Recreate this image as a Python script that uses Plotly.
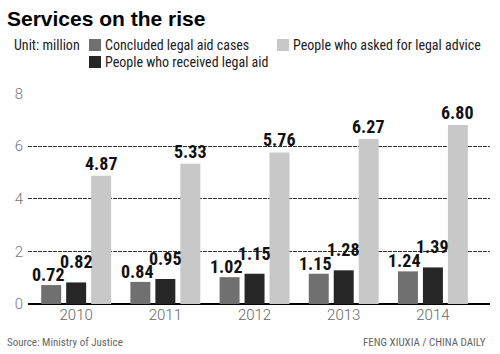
import plotly.graph_objects as go

years = ["2010", "2011", "2012", "2013", "2014"]
concluded = [0.72, 0.84, 1.02, 1.15, 1.24]
received = [0.82, 0.95, 1.15, 1.28, 1.39]
advice = [4.87, 5.33, 5.76, 6.27, 6.80]

names = ["Concluded legal aid cases", "People who received legal aid", "People who asked for legal advice"]
colors = ["#707070", "#262626", "#c8c8c8"]

W, H = 500, 354
ML, MR, MT, MB = 28, 10, 93, 50
PW, PH = W - ML - MR, H - MT - MB

NARROW = "Liberation Sans Narrow, Arial Narrow, Roboto Condensed, Roboto, sans-serif"
BARGAP, GROUPGAP = 0.16, 0.2

def px(x):
    return (x - ML) / PW

def py(y):
    return (H - MB - y) / PH

xs = list(range(len(years)))
fig = go.Figure()
for vals, name, col in zip([concluded, received, advice], names, colors):
    fig.add_trace(go.Bar(x=xs, y=vals, name=name, marker=dict(color=col, line=dict(width=0)),
                         showlegend=False, hoverinfo="skip"))

slot = (1 - BARGAP) / 3
ann = []
label_font = dict(family=NARROW, size=18, color="#111111", weight="bold")
for i in xs:
    ann.append(dict(x=i - slot, y=concluded[i], text=f"{concluded[i]:.2f}", xref="x", yref="y",
                    showarrow=False, yanchor="bottom", yshift=-2, xshift=-3, font=label_font))
    ann.append(dict(x=i, y=received[i], text=f"{received[i]:.2f}", xref="x", yref="y",
                    showarrow=False, yanchor="bottom", yshift=8, font=label_font))
    ann.append(dict(x=i + slot, y=advice[i], text=f"{advice[i]:.2f}", xref="x", yref="y",
                    showarrow=False, yanchor="bottom", yshift=0, font=label_font))

# Title and header texts
ann.append(dict(x=px(5), y=py(18), xref="paper", yref="paper", xanchor="left", yanchor="middle",
                text="<b>Services on the rise</b>", showarrow=False,
                font=dict(family="Liberation Sans, Arial, sans-serif", size=21, color="#000000")))
ann.append(dict(x=px(12), y=py(45), xref="paper", yref="paper", xanchor="left", yanchor="middle",
                text="Unit: million", showarrow=False,
                font=dict(family=NARROW, size=14, color="#222222")))

legend_items = [(names[0], colors[0], 89, 45), (names[2], colors[2], 277, 45), (names[1], colors[1], 89, 62)]
shapes = []
for name, col, lx, ly in legend_items:
    shapes.append(dict(type="rect", xref="paper", yref="paper", x0=px(lx), x1=px(lx + 12),
                       y0=py(ly - 6), y1=py(ly + 6), fillcolor=col, line=dict(width=0)))
    ann.append(dict(x=px(lx + 14), y=py(ly), xref="paper", yref="paper", xanchor="left", yanchor="middle",
                    text=name, showarrow=False, font=dict(family=NARROW, size=14, color="#222222")))

# Footer
ann.append(dict(x=px(5), y=py(342), xref="paper", yref="paper", xanchor="left", yanchor="middle",
                text="Source: Ministry of Justice", showarrow=False,
                font=dict(family=NARROW, size=11, color="#666666")))
ann.append(dict(x=px(488), y=py(342), xref="paper", yref="paper", xanchor="right", yanchor="middle",
                text="FENG XIUXIA / CHINA DAILY", showarrow=False,
                font=dict(family=NARROW, size=11, color="#666666")))

fig.update_layout(
    width=W, height=H,
    margin=dict(l=ML, r=MR, t=MT, b=MB, pad=0),
    paper_bgcolor="white", plot_bgcolor="white",
    barmode="group", bargap=BARGAP, bargroupgap=GROUPGAP,
    annotations=ann, shapes=shapes, showlegend=False,
    xaxis=dict(range=[-0.54, 4.64], tickmode="array", tickvals=xs, ticktext=years,
               showgrid=False, zeroline=False, showline=False, ticks="",
               tickfont=dict(family="Roboto, sans-serif", size=15, color="#666666", weight=300)),
    yaxis=dict(range=[0, 8.02], tickvals=[0, 2, 4, 6, 8], showgrid=True,
               gridcolor="#333333", gridwidth=1, griddash="4px,1px",
               zeroline=True, zerolinecolor="#000000", zerolinewidth=1.5,
               ticks="", ticklabelstandoff=4,
               tickfont=dict(family="Roboto, sans-serif", size=15, color="#777777", weight=300)),
)

fig.write_html("out.html")
